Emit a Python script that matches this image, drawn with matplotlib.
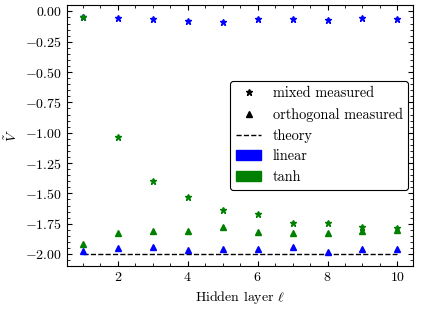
import matplotlib
matplotlib.use('Agg')
import matplotlib.pyplot as plt
import matplotlib.patches as mpatches
from matplotlib.lines import Line2D
from matplotlib.ticker import AutoMinorLocator

plt.rcParams['font.family'] = 'serif'
plt.rcParams['font.serif'] = ['cmr10']
plt.rcParams['mathtext.fontset'] = 'cm'
plt.rcParams['axes.formatter.use_mathtext'] = True
plt.rcParams['font.size'] = 10

layers = [1, 2, 3, 4, 5, 6, 7, 8, 9, 10]

# mixed measured
linear_mixed = [-0.045, -0.052, -0.066, -0.083, -0.085, -0.060, -0.066, -0.069, -0.052, -0.060]
tanh_mixed = [-0.045, -1.036, -1.394, -1.532, -1.636, -1.672, -1.741, -1.741, -1.775, -1.785]

# orthogonal measured
linear_orth = [-1.978, -1.953, -1.945, -1.964, -1.961, -1.956, -1.940, -1.981, -1.961, -1.956]
tanh_orth = [-1.917, -1.826, -1.810, -1.810, -1.777, -1.818, -1.829, -1.826, -1.813, -1.800]

theory = [-2.0] * 10

fig = plt.figure(figsize=(4.22, 3.10), dpi=100)
ax = fig.add_axes([0.159, 0.142, 0.82, 0.842])

ax.plot(layers, theory, 'k--', lw=1)
ax.plot(layers, linear_mixed, '*', color='blue', ms=4.5, ls='none')
ax.plot(layers, tanh_mixed, '*', color='green', ms=4.5, ls='none')
ax.plot(layers, linear_orth, '^', color='blue', ms=4, ls='none')
ax.plot(layers, tanh_orth, '^', color='green', ms=4, ls='none')

ax.set_xticks([2, 4, 6, 8, 10])
ax.xaxis.set_minor_locator(AutoMinorLocator())
ax.yaxis.set_minor_locator(AutoMinorLocator())
ax.tick_params(which='both', direction='in', top=True, right=True)
ax.tick_params(which='major', length=3.5)
ax.tick_params(which='minor', length=2)

ax.set_xlabel(r'Hidden layer $\ell$')
ax.set_ylabel(r'$\tilde{V}$')

handles = [
    Line2D([], [], marker='*', color='k', ls='none', ms=4.5),
    Line2D([], [], marker='^', color='k', ls='none', ms=4),
    Line2D([], [], color='k', ls='--', lw=1),
    mpatches.Patch(color='blue'),
    mpatches.Patch(color='green'),
]
labels = ['mixed measured', 'orthogonal measured', 'theory', 'linear', 'tanh']
leg = ax.legend(handles, labels, loc='center right', bbox_to_anchor=(0.986, 0.5),
                borderaxespad=0, handlelength=1.75, fancybox=True, framealpha=1,
                fontsize=10.3)
leg.get_frame().set_edgecolor('k')
leg.get_frame().set_linewidth(0.8)

fig.savefig('out.png', dpi=100)
